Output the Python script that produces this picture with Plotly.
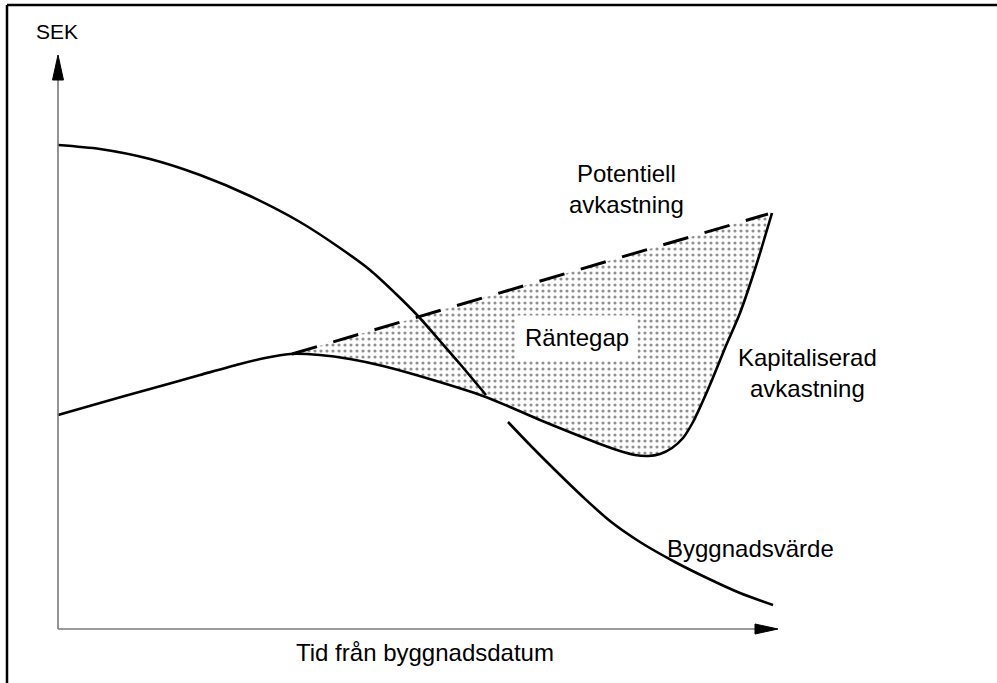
import plotly.graph_objects as go

# ---- data (time from construction date, SEK; arbitrary units, origin at axes origin) ----
bygg_upper_x = [0, 42, 92, 142, 192, 242, 282, 312, 337, 360, 382, 402, 428]
bygg_upper_y = [484, 480, 470, 454, 433, 407, 381, 359, 336, 313, 288, 265, 234]

bygg_lower_x = [450, 472, 497, 525, 552, 582, 617, 649, 682, 715]
bygg_lower_y = [207, 184, 159, 132, 108, 87, 67, 51, 36, 24]

kap_x = [0, 42, 92, 142, 182, 207, 232, 262, 292, 325, 375, 425, 452, 482, 509,
         542, 562, 577, 590, 602, 614, 625, 635, 644, 654, 667, 682, 698, 714]
kap_y = [214, 226, 240, 254, 265, 271, 275, 274, 270, 263, 249, 233, 222, 209, 198,
         185, 178, 174, 173, 175, 181, 191, 207, 226, 249, 281, 316, 363, 416]

pot_x = [234, 710]
pot_y = [275, 415]

x_axis_end = 720
y_axis_end = 574

labels = {
    "SEK": (-1, 598),
    "Potentiell<br>avkastning": (568, 440),
    "Räntegap": (519, 292),
    "Kapitaliserad<br>avkastning": (749, 256),
    "Byggnadsvärde": (692, 81),
    "Tid från byggnadsdatum": (367, -23),
}

FONT = "Liberation Sans, Arial, Helvetica, sans-serif"
LINE = dict(color="black", width=2.6, shape="spline", smoothing=0.8)

fig = go.Figure()

# fill base: Kapitaliserad avkastning from the start of the dashed line onward
base_x = [pot_x[0]] + [x for x in kap_x if x > pot_x[0]]
base_y = [pot_y[0]] + [y for x, y in zip(kap_x, kap_y) if x > pot_x[0]]
fig.add_trace(go.Scatter(x=base_x, y=base_y, mode="lines",
                         line=dict(width=0, color="rgba(0,0,0,0)", shape="spline", smoothing=0.8),
                         hoverinfo="skip"))
fig.add_trace(go.Scatter(x=pot_x, y=pot_y, mode="lines", fill="tonexty",
                         fillcolor="white",
                         fillpattern=dict(shape=".", fgcolor="#222222", bgcolor="white",
                                          size=6, solidity=0.22),
                         line=dict(color="black", width=3, dash="26px,17px")))

fig.add_trace(go.Scatter(x=kap_x, y=kap_y, mode="lines", line=LINE))
fig.add_trace(go.Scatter(x=bygg_upper_x, y=bygg_upper_y, mode="lines", line=LINE))
fig.add_trace(go.Scatter(x=bygg_lower_x, y=bygg_lower_y, mode="lines", line=LINE))

shapes = []
# axes lines
shapes.append(dict(type="line", xref="x", yref="y", x0=0, y0=0, x1=0, y1=y_axis_end - 20,
                   line=dict(color="#7a7a7a", width=1.6)))
shapes.append(dict(type="line", xref="x", yref="y", x0=0, y0=0, x1=x_axis_end - 20, y1=0,
                   line=dict(color="#7a7a7a", width=1.6)))
# arrowheads
shapes.append(dict(type="path", xref="x", yref="y",
                   path=f"M {-5.5} {y_axis_end - 25} L 0 {y_axis_end} L 5.5 {y_axis_end - 25} Z",
                   fillcolor="black", line=dict(color="black", width=1)))
shapes.append(dict(type="path", xref="x", yref="y",
                   path=f"M {x_axis_end - 23} -5 L {x_axis_end} 0 L {x_axis_end - 23} 5 Z",
                   fillcolor="black", line=dict(color="black", width=1)))
# frame lines (top and left)
shapes.append(dict(type="line", xref="paper", yref="paper", x0=7 / 997, y0=1 - 5 / 683,
                   x1=1, y1=1 - 5 / 683, line=dict(color="black", width=2.5)))
shapes.append(dict(type="line", xref="paper", yref="paper", x0=7 / 997, y0=0,
                   x1=7 / 997, y1=1 - 5 / 683, line=dict(color="black", width=2.5)))

annotations = []
for text, (x, y) in labels.items():
    a = dict(x=x, y=y, xref="x", yref="y", text=text, showarrow=False,
             font=dict(family=FONT, size=24 if text != "SEK" else 21, color="black"),
             align="center", xanchor="center", yanchor="middle")
    if text == "Räntegap":
        a.update(bgcolor="white", borderpad=8)
    annotations.append(a)

fig.update_layout(
    width=997, height=683,
    margin=dict(l=0, r=0, t=0, b=0, pad=0),
    paper_bgcolor="white", plot_bgcolor="white",
    showlegend=False,
    xaxis=dict(range=[-58, 939], visible=False, fixedrange=True),
    yaxis=dict(range=[-54, 629], visible=False, fixedrange=True),
    shapes=shapes,
    annotations=annotations,
)

fig.write_html("out.html",
               config={"displayModeBar": False, "staticPlot": True},
               post_script="document.body.style.margin='0px';document.body.style.overflow='hidden';")
